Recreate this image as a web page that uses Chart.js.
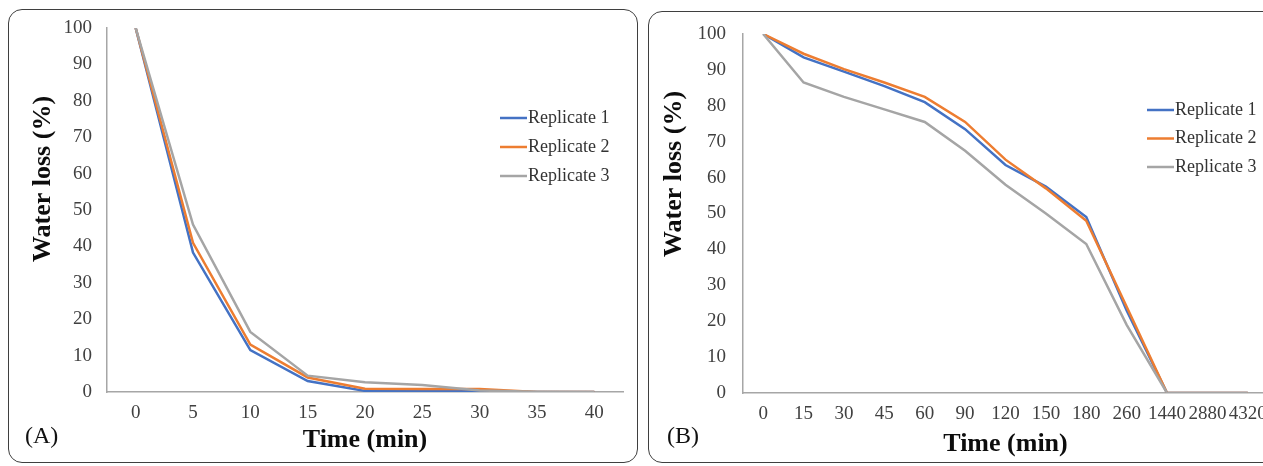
<!DOCTYPE html>
<html><head><meta charset="utf-8">
<script src="https://cdn.jsdelivr.net/npm/chart.js@4.4.0/dist/chart.umd.min.js"></script>
<style>
html,body{margin:0;padding:0;width:1263px;height:466px;overflow:hidden;background:#fff;}
.panel{position:absolute;border:1.6px solid #3f3f3f;border-radius:14px;box-sizing:border-box;}
#pa{left:8px;top:9px;width:630px;height:454px;}
#pb{left:648px;top:11px;width:660px;height:452px;}
canvas{position:absolute;top:0;}
#ca{left:0;}
#cb{left:640px;}
</style></head><body>
<div class="panel" id="pa"></div><div class="panel" id="pb"></div>
<canvas id="ca" width="640" height="466"></canvas>
<canvas id="cb" width="640" height="466"></canvas>
<script>
// ---- data ----
const seriesNames = ['Replicate 1', 'Replicate 2', 'Replicate 3'];
const timeA = ['0', '5', '10', '15', '20', '25', '30', '35', '40'];
const a_rep1 = [100, 38.3, 11.5, 3.0, 0.3, 0.3, 0.2, 0, 0];
const a_rep2 = [100, 41, 13, 4.0, 0.9, 0.8, 0.8, 0, 0];
const a_rep3 = [100, 46, 16.5, 4.5, 2.7, 1.9, 0.4, 0.1, 0];
const timeB = ['0', '15', '30', '45', '60', '90', '120', '150', '180', '260', '1440', '2880', '4320'];
const b_rep1 = [100, 93.5, 89.5, 85.5, 81, 73.5, 63.5, 57.5, 49, 23, 0, 0, 0];
const b_rep2 = [100, 94.5, 90.2, 86.5, 82.5, 75.5, 65, 57, 48, 24, 0, 0, 0];
const b_rep3 = [100, 86.5, 82.5, 79, 75.5, 67.5, 58, 50, 41.5, 19, 0, 0, 0];
const yTicks = [0, 10, 20, 30, 40, 50, 60, 70, 80, 90, 100];
const yTitle = 'Water loss (%)';
const xTitle = 'Time (min)';

const colors = ['#4472C4', '#ED7D31', '#A5A5A5'];
const SERIF = "'Liberation Serif', 'Times New Roman', serif";

const extras = {
  id: 'extras',
  afterDraw(chart, args, o) {
    const ctx = chart.ctx;
    ctx.save();
    // y title
    ctx.translate(o.yTitleX, o.yTitleY);
    ctx.rotate(-Math.PI / 2);
    ctx.font = 'bold 26px ' + SERIF;
    ctx.fillStyle = '#0d0d0d';
    ctx.textAlign = 'center';
    ctx.textBaseline = 'middle';
    ctx.fillText(yTitle, 0, 0);
    ctx.restore();
    // panel label
    ctx.save();
    ctx.font = '24px ' + SERIF;
    ctx.fillStyle = '#111';
    ctx.textAlign = 'left';
    ctx.textBaseline = 'middle';
    ctx.fillText(o.label, o.labelX, o.labelY);
    // legend
    chart.data.datasets.forEach((ds, i) => {
      const y = o.legY + i * o.legDy;
      ctx.strokeStyle = ds.borderColor;
      ctx.lineWidth = 2.5;
      ctx.beginPath();
      ctx.moveTo(o.legX, y);
      ctx.lineTo(o.legX + 27, y);
      ctx.stroke();
      ctx.font = '18px ' + SERIF;
      ctx.fillStyle = '#333333';
      ctx.textBaseline = 'middle';
      ctx.fillText(ds.label, o.legX + 28, y);
    });
    ctx.restore();
  }
};

function makeChart(id, labels, data, cfg) {
  return new Chart(document.getElementById(id), {
    type: 'line',
    data: {
      labels: labels,
      datasets: data.map((d, i) => ({
        label: seriesNames[i],
        data: d,
        borderColor: colors[i],
        backgroundColor: colors[i],
        borderWidth: 2.5,
        pointRadius: 0,
        tension: 0,
        fill: false,
        order: 3 - i
      }))
    },
    options: {
      responsive: false,
      animation: false,
      devicePixelRatio: 1,
      layout: { padding: { left: 0, right: cfg.padRight, top: cfg.padTop, bottom: 0 } },
      plugins: {
        legend: { display: false },
        tooltip: { enabled: false },
        extras: cfg.extras
      },
      scales: {
        x: {
          type: 'category',
          offset: true,
          grid: { display: false, drawTicks: false },
          border: { display: true, color: '#A6A6A6', width: 1.5 },
          ticks: { font: { family: SERIF, size: 19 }, color: '#404040', padding: 10, maxRotation: 0, autoSkip: false },
          title: { display: true, text: xTitle, font: { family: SERIF, size: 26, weight: 'bold' }, color: '#0d0d0d', padding: { top: 0, bottom: cfg.xTitlePad } },
          afterFit: s => { s.height = cfg.xHeight; }
        },
        y: {
          min: 0, max: 100,
          afterBuildTicks: s => { s.ticks = yTicks.map(v => ({ value: v })); },
          grid: { display: false, drawTicks: false },
          border: { display: true, color: '#A6A6A6', width: 1.5 },
          ticks: { font: { family: SERIF, size: 19 }, color: '#404040', padding: cfg.yPad },
          afterFit: s => { s.width = cfg.yWidth; }
        }
      }
    },
    plugins: [extras]
  });
}

makeChart('ca', timeA, [a_rep1, a_rep2, a_rep3], {
  padRight: 17, padTop: 28, xHeight: 74, xTitlePad: 10, yWidth: 107, yPad: 15,
  extras: { yTitleX: 43, yTitleY: 179, label: '(A)', labelX: 25, labelY: 437, legX: 500, legY: 118, legDy: 29 }
});
makeChart('cb', timeB, [b_rep1, b_rep2, b_rep3], {
  padRight: 12, padTop: 34, xHeight: 73, xTitlePad: 6.5, yWidth: 103, yPad: 17,
  extras: { yTitleX: 34, yTitleY: 174, label: '(B)', labelX: 27, labelY: 437, legX: 507, legY: 110, legDy: 28.5 }
});
</script>
</body></html>
